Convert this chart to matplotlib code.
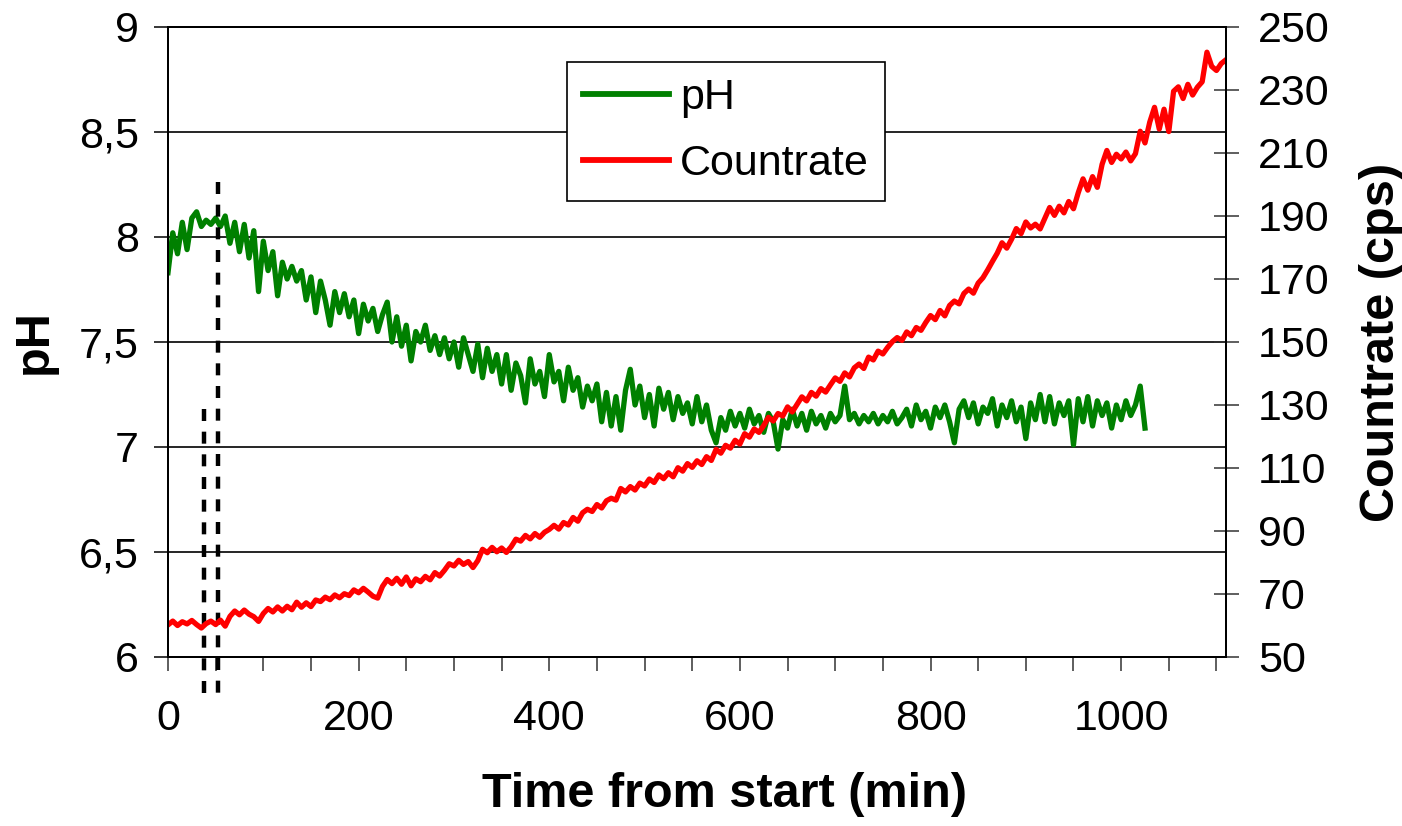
import matplotlib.pyplot as plt
from matplotlib.ticker import MultipleLocator, FixedLocator
import numpy as np

plt.rcParams['font.family'] = ['Liberation Sans', 'DejaVu Sans']

# pH readings, one every 5 minutes from t = 0
ph_step = 5
ph_values = [
    7.83, 8.02, 7.92, 8.07, 7.94, 8.09, 8.12, 8.05, 8.08, 8.06,
    8.09, 8.05, 8.10, 7.97, 8.07, 7.93, 8.06, 7.90, 8.03, 7.74,
    7.98, 7.84, 7.93, 7.72, 7.88, 7.80, 7.86, 7.79, 7.84, 7.70,
    7.81, 7.64, 7.79, 7.70, 7.58, 7.74, 7.64, 7.73, 7.62, 7.70,
    7.54, 7.68, 7.60, 7.66, 7.55, 7.63, 7.69, 7.50, 7.62, 7.48,
    7.58, 7.41, 7.55, 7.50, 7.58, 7.46, 7.53, 7.44, 7.52, 7.42,
    7.50, 7.38, 7.52, 7.44, 7.36, 7.49, 7.33, 7.47, 7.36, 7.44,
    7.30, 7.44, 7.27, 7.40, 7.34, 7.21, 7.42, 7.30, 7.36, 7.24,
    7.44, 7.31, 7.36, 7.22, 7.38, 7.27, 7.33, 7.19, 7.29, 7.22,
    7.30, 7.12, 7.26, 7.10, 7.24, 7.08, 7.27, 7.37, 7.20, 7.29,
    7.14, 7.25, 7.10, 7.28, 7.18, 7.26, 7.13, 7.24, 7.16, 7.21,
    7.11, 7.24, 7.12, 7.20, 7.08, 7.02, 7.14, 7.08, 7.17, 7.10,
    7.16, 7.09, 7.18, 7.11, 7.15, 7.07, 7.16, 7.12, 6.99, 7.13,
    7.09, 7.18, 7.10, 7.16, 7.08, 7.17, 7.11, 7.15, 7.09, 7.16,
    7.12, 7.15, 7.29, 7.13, 7.16, 7.11, 7.15, 7.12, 7.16, 7.11,
    7.15, 7.12, 7.17, 7.11, 7.14, 7.18, 7.10, 7.20, 7.13, 7.17,
    7.09, 7.19, 7.14, 7.20, 7.12, 7.02, 7.18, 7.22, 7.14, 7.21,
    7.11, 7.19, 7.16, 7.23, 7.10, 7.20, 7.14, 7.22, 7.12, 7.19,
    7.04, 7.21, 7.13, 7.25, 7.12, 7.24, 7.11, 7.21, 7.15, 7.22,
    7.01, 7.23, 7.12, 7.24, 7.10, 7.22, 7.15, 7.21, 7.09, 7.20,
    7.13, 7.22, 7.15, 7.20, 7.29, 7.09,
]

# count rate readings (cps), one every 5 minutes from t = 0
cps_step = 5
cps_values = [
    60.2, 61.4, 60.0, 61.2, 60.5, 61.6, 60.3, 59.2, 60.6, 61.4,
    60.3, 61.7, 59.8, 62.9, 64.6, 63.4, 64.9, 63.6, 62.8, 61.3,
    63.8, 65.4, 64.3, 65.9, 64.6, 66.1, 65.0, 67.4, 65.8, 67.2,
    66.0, 68.1, 67.6, 69.0, 68.2, 69.7, 68.8, 70.1, 69.5, 71.3,
    70.4, 71.8, 70.6, 69.3, 68.7, 72.4, 74.6, 73.3, 75.0, 73.1,
    75.4, 72.6, 74.8, 73.9, 75.6, 74.5, 76.8, 75.7, 77.5, 79.6,
    78.9, 80.7, 79.4, 80.3, 78.4, 80.6, 84.2, 83.1, 84.8, 83.4,
    84.6, 83.2, 85.0, 87.4, 86.8, 88.6, 87.5, 89.2, 88.0, 89.6,
    90.5, 91.8, 90.6, 92.7, 91.9, 94.3, 93.1, 95.8, 96.9, 96.2,
    98.4, 97.3, 99.6, 100.4, 99.8, 103.5, 102.4, 104.1, 103.0, 105.2,
    104.3, 106.5, 105.4, 107.8, 106.6, 108.5, 107.2, 110.1, 109.0, 111.4,
    110.2, 112.3, 111.1, 113.6, 112.4, 115.9, 114.7, 117.2, 116.3, 118.8,
    117.6, 120.9, 119.8, 122.4, 121.3, 123.5, 126.1, 124.9, 127.3, 126.5,
    129.4, 127.8, 130.2, 132.6, 131.3, 134.0, 132.8, 135.2, 134.1, 136.4,
    138.6, 137.5, 140.2, 138.9, 141.8, 143.0, 141.6, 145.2, 144.3, 147.1,
    146.2, 148.3, 150.1, 151.4, 150.5, 153.2, 152.0, 154.6, 153.7, 156.2,
    158.4, 157.1, 160.0, 158.3, 161.6, 163.0, 162.1, 165.4, 166.8, 165.5,
    168.7, 170.4, 172.9, 175.6, 178.2, 181.5, 179.8, 182.6, 186.0, 184.4,
    188.1, 186.2, 187.4, 185.9, 189.3, 192.7, 190.2, 193.1, 191.0, 194.6,
    192.3, 197.4, 201.8, 198.2, 202.5, 199.1, 206.4, 210.8, 207.0, 209.6,
    208.1, 210.3, 207.5, 209.8, 216.9, 213.2, 219.8, 224.5, 217.6, 223.9,
    216.8, 229.6, 231.0, 227.3, 231.8, 228.4, 230.9, 232.6, 242.0, 237.5,
    236.2, 238.4, 239.6,
]

# dashed markers: time (min) and top end (pH units)
marker_times = [38, 52]
marker_tops = [7.18, 8.26]
marker_bottom = 5.82

ph_ticks = [6, 6.5, 7, 7.5, 8, 8.5, 9]
ph_labels = ['6', '6,5', '7', '7,5', '8', '8,5', '9']
cps_ticks = list(range(50, 251, 20))

ph_time = np.arange(len(ph_values)) * ph_step
cps_time = np.arange(len(cps_values)) * cps_step

fig = plt.figure(figsize=(14.02, 8.26), dpi=100)
ax = fig.add_axes([168 / 1402, 1 - 657 / 826, (1226 - 168) / 1402, 630 / 826])
ax2 = ax.twinx()

FS = 31
LFS = 35

ph_line, = ax.plot(ph_time, ph_values, color='#008000', lw=3.8, label='pH')
cps_line, = ax2.plot(cps_time, cps_values, color='#ff0000', lw=3.8, label='Countrate')

for t, top in zip(marker_times, marker_tops):
    ax.plot([t, t], [top, marker_bottom], color='black', lw=3.2,
            linestyle=(0, (2.7, 2.4)), clip_on=False, zorder=5)

ax.set_xlim(0, 1110)
ax.set_ylim(6, 9)
ax2.set_ylim(50, 250)

ax.xaxis.set_major_locator(MultipleLocator(200))
ax.xaxis.set_minor_locator(MultipleLocator(50))
ax.set_yticks(ph_ticks)
ax.set_yticklabels(ph_labels)
ax2.yaxis.set_major_locator(FixedLocator(cps_ticks))

ax.grid(axis='y', color='black', lw=1.2)
ax.set_axisbelow(True)

ax.tick_params(axis='x', which='both', direction='out', length=10, width=1.1,
               labelsize=FS, pad=20, color='#333333')
ax.tick_params(axis='y', direction='out', length=10, width=1.1, labelsize=FS, pad=11)
ax2.tick_params(axis='y', direction='inout', length=18, width=1.1, labelsize=FS, pad=14,
                color='#333333')

for a in (ax, ax2):
    for s in a.spines.values():
        s.set_linewidth(1.4)
        s.set_color('black')

ax.set_xlabel('Time from start (min)', fontsize=LFS, fontweight='bold', labelpad=24)
ax.xaxis.label.set_x((724 - 168) / 1058)
ax.set_ylabel('pH', fontsize=LFS, fontweight='bold', labelpad=16)
ax2.set_ylabel('Countrate (cps)', fontsize=LFS, fontweight='bold', labelpad=21)

leg = ax2.legend(handles=[ph_line, cps_line], loc='upper left',
                 bbox_to_anchor=(567 / 1402, 1 - 62 / 826),
                 bbox_transform=fig.transFigure, borderaxespad=0,
                 fontsize=FS, handlelength=2.0, handletextpad=0.25,
                 borderpad=0.38, labelspacing=0.6, fancybox=False,
                 framealpha=1, edgecolor='black')
leg.get_frame().set_linewidth(1.2)
for line in leg.get_lines():
    line.set_linewidth(4.2)

fig.savefig('out.png', dpi=100)
